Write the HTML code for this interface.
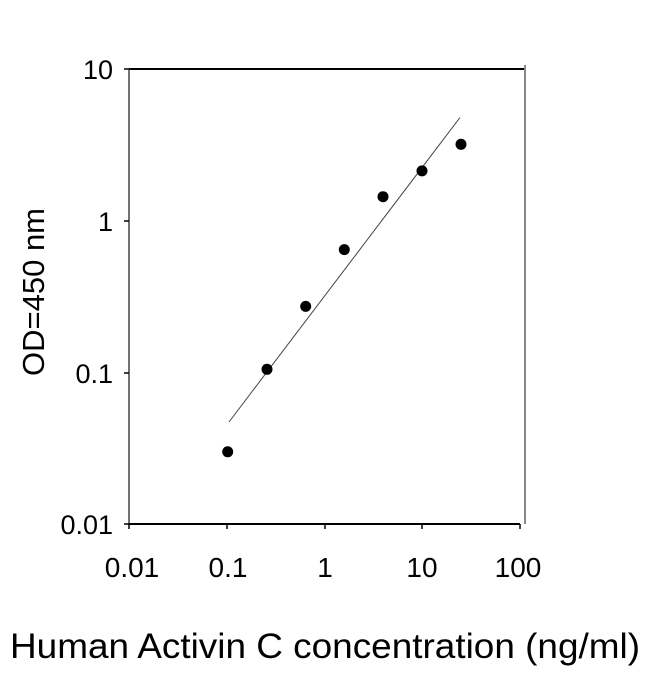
<!DOCTYPE html>
<html><head><style>body{margin:0;background:#fff}</style></head><body>
<svg width="650" height="674" xmlns="http://www.w3.org/2000/svg" font-family="Liberation Sans, Arial, sans-serif">
<rect width="650" height="674" fill="#fff"/>
<line x1="129" y1="69" x2="525" y2="69" stroke="#000" stroke-width="2"/>
<line x1="525" y1="65" x2="525" y2="524" stroke="#888" stroke-width="2"/>
<line x1="129" y1="69" x2="129" y2="524" stroke="#444" stroke-width="1.5"/>
<line x1="129" y1="524" x2="520" y2="524" stroke="#000" stroke-width="2"/>
<g stroke="#000" stroke-width="1.5">
<line x1="124" y1="69" x2="129" y2="69"/><line x1="124" y1="221" x2="129" y2="221"/>
<line x1="124" y1="373" x2="129" y2="373"/><line x1="124" y1="524" x2="129" y2="524"/>
<line x1="129" y1="524" x2="129" y2="529"/><line x1="227" y1="524" x2="227" y2="529"/>
<line x1="325" y1="524" x2="325" y2="529"/><line x1="422" y1="524" x2="422" y2="529"/>
<line x1="520" y1="524" x2="520" y2="529"/>
</g>
<g font-size="27" text-anchor="end" fill="#000">
<text x="113" y="79">10</text><text x="113" y="231">1</text>
<text x="113" y="383">0.1</text><text x="113" y="534">0.01</text>
</g>
<g font-size="28" text-anchor="middle" fill="#000">
<text x="132" y="577">0.01</text><text x="228" y="577">0.1</text>
<text x="325" y="577">1</text><text x="422" y="577">10</text><text x="518" y="577">100</text>
</g>
<text x="325" y="658" font-size="35" text-anchor="middle" textLength="630" lengthAdjust="spacingAndGlyphs">Human Activin C concentration (ng/ml)</text>
<text transform="translate(44,292) rotate(-90)" font-size="31" text-anchor="middle">OD=450 nm</text>
<line x1="229" y1="422" x2="460" y2="117.5" stroke="#444" stroke-width="1"/>
<g fill="#000">
<circle cx="227.7" cy="451.8" r="5.5"/><circle cx="267" cy="369.3" r="5.5"/>
<circle cx="305.7" cy="306.4" r="5.5"/><circle cx="344.3" cy="249.6" r="5.5"/>
<circle cx="383" cy="196.7" r="5.5"/><circle cx="422" cy="170.9" r="5.5"/>
<circle cx="461" cy="144.3" r="5.5"/>
</g>
</svg>
</body></html>
